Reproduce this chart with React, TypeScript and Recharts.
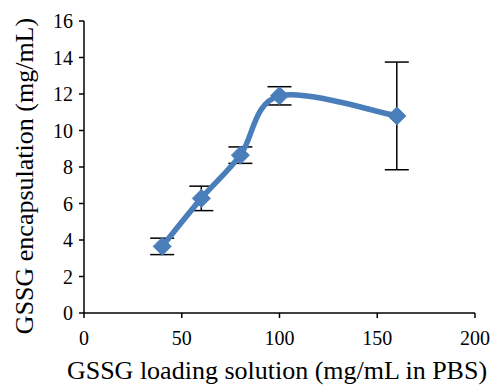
import React from 'react';
import { LineChart, Line, XAxis, YAxis, ErrorBar, Label } from 'recharts';

const loading = [40, 60, 80, 100, 160];
const encapsulation = [3.65, 6.28, 8.65, 11.9, 10.8];
const errors = [0.45, 0.67, 0.45, 0.5, 2.95];
const xTicks = [0, 50, 100, 150, 200];
const yTicks = [0, 2, 4, 6, 8, 10, 12, 14, 16];

const data = loading.map((x, i) => ({ x, y: encapsulation[i], err: errors[i] }));

const BLUE = '#4A7EBB';
const FONT = "'Times New Roman', 'Liberation Serif', 'DejaVu Serif', serif";

// Excel-like smoothed line (Catmull-Rom through the points)
function smoothCurve(context: any) {
  let pts: number[][] = [];
  return {
    areaStart() {},
    areaEnd() {},
    lineStart() {
      pts = [];
    },
    point(x: number, y: number) {
      pts.push([+x, +y]);
    },
    lineEnd() {
      if (!pts.length) return;
      context.moveTo(pts[0][0], pts[0][1]);
      for (let i = 0; i < pts.length - 1; i++) {
        const p0 = pts[i - 1] || pts[i];
        const p1 = pts[i];
        const p2 = pts[i + 1];
        const p3 = pts[i + 2] || p2;
        const c1x = p1[0] + (p2[0] - p0[0]) / 6;
        const c1y = p1[1] + (p2[1] - p0[1]) / 6;
        const c2x = p2[0] - (p3[0] - p1[0]) / 6;
        const c2y = p2[1] - (p3[1] - p1[1]) / 6;
        context.bezierCurveTo(c1x, c1y, c2x, c2y, p2[0], p2[1]);
      }
    },
  };
}

function Diamond(props: any) {
  const { cx, cy } = props;
  if (cx == null || cy == null) return null;
  const r = 9;
  return (
    <polygon
      points={`${cx},${cy - r} ${cx + r},${cy} ${cx},${cy + r} ${cx - r},${cy}`}
      fill={BLUE}
      stroke={BLUE}
      strokeWidth={1}
    />
  );
}

export default function App() {
  return (
    <div style={{ position: 'absolute', left: 0, top: 0, fontFamily: FONT }}>
      <LineChart
        width={493}
        height={385}
        data={data}
        margin={{ top: 21, right: 18, bottom: 0, left: 0 }}
        style={{ fontFamily: FONT }}
      >
        <XAxis
          dataKey="x"
          type="number"
          domain={[0, 200]}
          ticks={xTicks}
          interval={0}
          height={72}
          stroke="#000"
          strokeWidth={1.5}
          tickSize={5}
          tickMargin={13}
          tick={{ fill: '#000', fontSize: 20, fontFamily: FONT }}
        >
          <Label
            content={() => (
              <text
                x={277}
                y={379}
                textAnchor="middle"
                fontSize={26}
                fontFamily={FONT}
                fill="#000"
              >
                GSSG loading solution (mg/mL in PBS)
              </text>
            )}
          />
        </XAxis>
        <YAxis
          type="number"
          domain={[0, 16]}
          ticks={yTicks}
          interval={0}
          width={84}
          stroke="#000"
          strokeWidth={1.5}
          tickSize={5}
          tickMargin={6}
          tick={{ fill: '#000', fontSize: 20, fontFamily: FONT }}
        >
          <Label
            content={() => (
              <text
                x={33}
                y={176}
                transform="rotate(-90 33 176)"
                textAnchor="middle"
                fontSize={26}
                fontFamily={FONT}
                fill="#000"
              >
                GSSG encapsulation (mg/mL)
              </text>
            )}
          />
        </YAxis>
        <Line
          dataKey="y"
          type={smoothCurve as any}
          stroke={BLUE}
          strokeWidth={5.5}
          dot={<Diamond />}
          activeDot={false}
          isAnimationActive={false}
        >
          <ErrorBar dataKey="err" direction="y" width={12} stroke="#000" strokeWidth={1.5} />
        </Line>
      </LineChart>
    </div>
  );
}
